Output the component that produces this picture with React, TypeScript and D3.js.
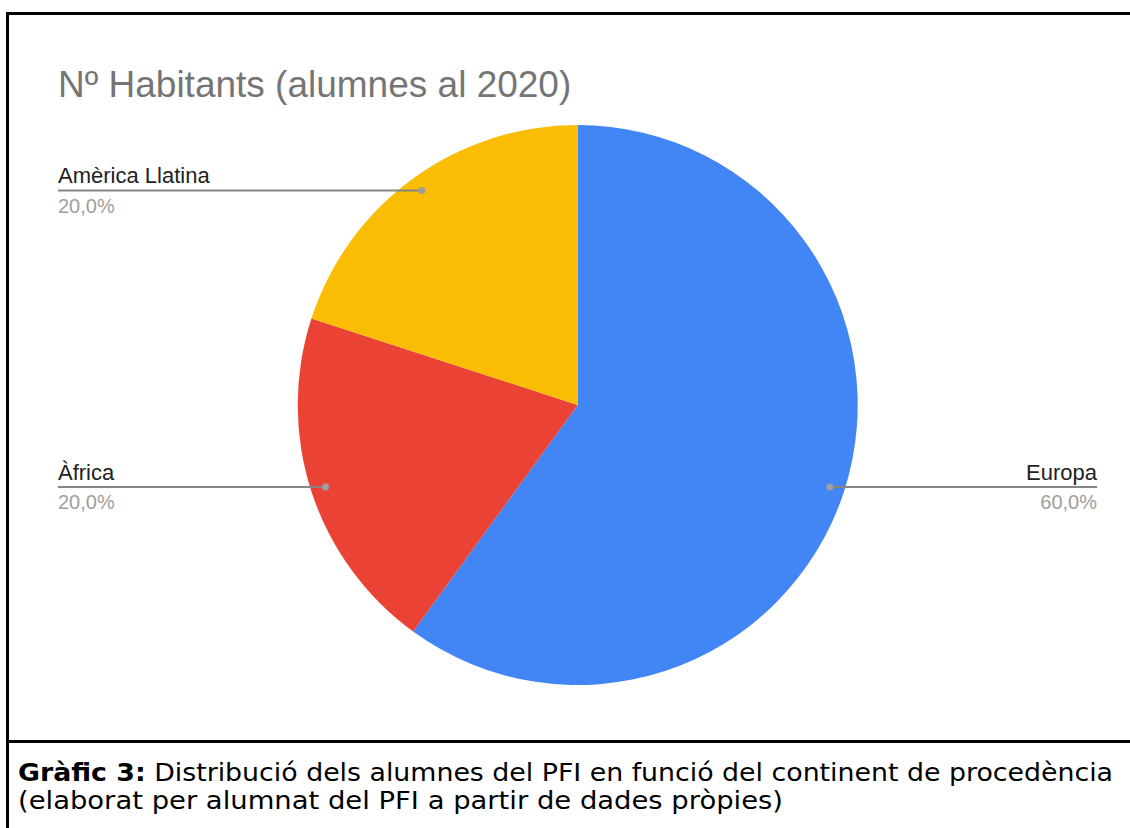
import React from "react";
import * as d3 from "d3";

const categories = ["Europa", "Àfrica", "Amèrica Llatina"];
const values = [60, 20, 20];
const percentLabels = ["60,0%", "20,0%", "20,0%"];
const colors = ["#4285F4", "#EA4335", "#FBBC04"];
const title = "Nº Habitants (alumnes al 2020)";
const captionBold = "Gràfic 3:";
const captionLine1 = " Distribució dels alumnes del PFI en funció del continent de procedència";
const captionLine2 = "(elaborat per alumnat del PFI a partir de dades pròpies)";

export default function App() {
  const W = 1130, H = 828;
  const cx = 577.7, cy = 405, r = 280;
  const pie = d3.pie<number>().sort(null).value((d) => d)(values);
  const arc = d3.arc<d3.PieArcDatum<number>>().innerRadius(0).outerRadius(r);
  const leftX = 58, rightX = 1097;
  const font = "Arial, 'Liberation Sans', sans-serif";
  const capFont = "Verdana, 'DejaVu Sans', sans-serif";

  return (
    <svg width={W} height={H} style={{ position: "absolute", left: 0, top: 0 }}>
      <rect x={0} y={0} width={W} height={H} fill="#fff" />
      {/* frame */}
      <line x1={6} y1={13.5} x2={W} y2={13.5} stroke="#000" strokeWidth={3} />
      <line x1={7.5} y1={12} x2={7.5} y2={H} stroke="#000" strokeWidth={3} />
      <line x1={6} y1={741.5} x2={W} y2={741.5} stroke="#000" strokeWidth={3} />

      <text x={58} y={97} fontFamily={font} fontSize={37} fill="#757575">{title}</text>

      <g transform={`translate(${cx},${cy})`}>
        {pie.map((p, i) => (
          <path key={i} d={arc(p) || ""} fill={colors[i]} />
        ))}
      </g>

      {pie.map((p, i) => {
        const mid = (p.startAngle + p.endAngle) / 2;
        const rr = r * 0.947;
        const px = cx + rr * Math.sin(mid);
        const py = cy - rr * Math.cos(mid);
        const right = Math.sin(mid) > 0;
        const endX = right ? rightX : leftX;
        return (
          <g key={"l" + i}>
            <line x1={px} y1={py} x2={endX} y2={py} stroke="#858585" strokeWidth={2} />
            <circle cx={px} cy={py} r={3.5} fill="#9e9e9e" />
            <text x={endX} y={py - 7} fontFamily={font} fontSize={22} fill="#222"
              textAnchor={right ? "end" : "start"}>{categories[i]}</text>
            <text x={endX} y={py + 22.5} fontFamily={font} fontSize={20} fill="#9e9e9e"
              textAnchor={right ? "end" : "start"}>{percentLabels[i]}</text>
          </g>
        );
      })}

      <text x={18} y={781} fontFamily={capFont} fontSize={24} fill="#000"
        textLength={1095} lengthAdjust="spacingAndGlyphs">
        <tspan fontWeight="bold">{captionBold}</tspan>
        <tspan>{captionLine1}</tspan>
      </text>
      <text x={18} y={809} fontFamily={capFont} fontSize={24} fill="#000"
        textLength={765} lengthAdjust="spacingAndGlyphs">
        {captionLine2}
      </text>
    </svg>
  );
}
